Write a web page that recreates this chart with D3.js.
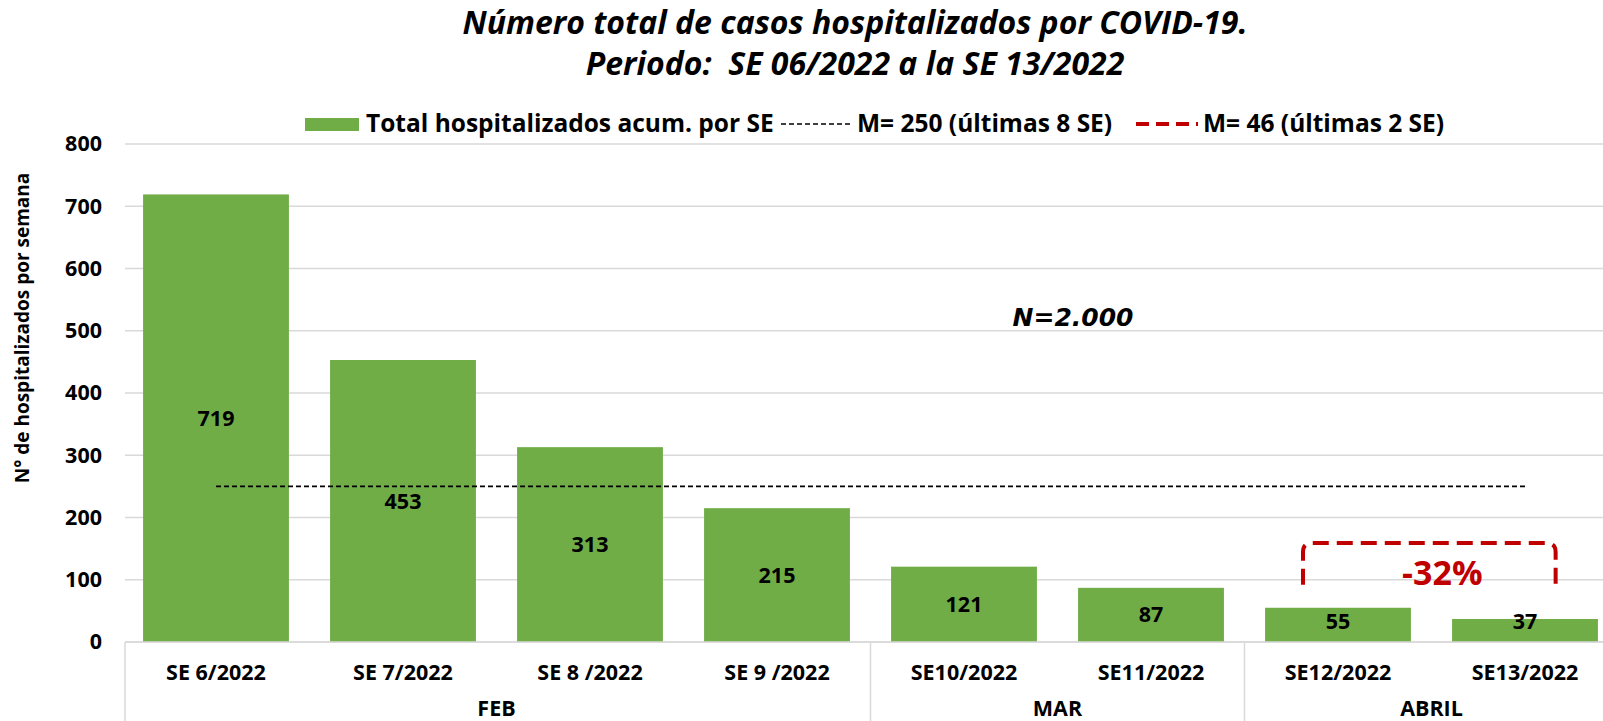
<!DOCTYPE html>
<html>
<head>
<meta charset="utf-8">
<script src="https://cdn.jsdelivr.net/npm/d3@7"></script>
<style>
  body { margin: 0; background: #fff; }
</style>
</head>
<body>
<div id="chart"></div>
<script>
// data
const categories = ['SE 6/2022', 'SE 7/2022', 'SE 8 /2022', 'SE 9 /2022', 'SE10/2022', 'SE11/2022', 'SE12/2022', 'SE13/2022']
const months = ['FEB', 'FEB', 'FEB', 'FEB', 'MAR', 'MAR', 'ABRIL', 'ABRIL']
const hospitalized = [719, 453, 313, 215, 121, 87, 55, 37]
const yTicks = [0, 100, 200, 300, 400, 500, 600, 700, 800]
const meanAll = 250
const titleLines = ['Número total de casos hospitalizados por COVID-19.', 'Periodo:  SE 06/2022 a la SE 13/2022']
const legendLabels = ['Total hospitalizados acum. por SE', 'M= 250 (últimas 8 SE)', 'M= 46 (últimas 2 SE)']
const totalLabel = 'N=2.000'
const changeLabel = '-32%'
const bracketRange = [92, 159]

const green = '#70AD47'
const red = '#C00000'
const grid = '#D9D9D9'
const font = '"Open Sans", sans-serif'

const width = 1603, height = 721
const svg = d3.select('#chart').append('svg')
  .attr('width', width)
  .attr('height', height)
  .style('font-family', font)

// scales
const xScale = d3.scaleBand()
  .domain(categories)
  .range([122.5, 122.5 + 8 * 187])
  .paddingInner(0.22)
  .paddingOuter(0.11)

const yScale = d3.scaleLinear()
  .domain([0, 800])
  .range([642, 144])

const bw = xScale.bandwidth()
const gap = xScale.step() * 0.22

// title
svg.append('g').selectAll('text')
  .data(titleLines)
  .join('text')
  .attr('x', 855)
  .attr('y', (d, i) => 34 + i * 41)
  .attr('text-anchor', 'middle')
  .attr('font-size', 32)
  .attr('font-weight', 'bold')
  .attr('font-style', 'italic')
  .style('white-space', 'pre')
  .text(d => d)

// gridlines
svg.append('g').selectAll('line')
  .data(yTicks)
  .join('line')
  .attr('x1', 125)
  .attr('x2', width)
  .attr('y1', d => yScale(d))
  .attr('y2', d => yScale(d))
  .attr('stroke', grid)
  .attr('stroke-width', 1.5)

// y axis
const yAxis = d3.axisLeft(yScale).tickValues(yTicks).tickSize(0).tickPadding(0)
const yG = svg.append('g')
  .attr('transform', 'translate(102,0)')
  .call(yAxis)
yG.select('.domain').remove()
yG.selectAll('text')
  .style('font-family', font)
  .attr('font-size', 21.5)
  .attr('font-weight', 'bold')
  .attr('fill', '#000')

svg.append('text')
  .attr('transform', 'translate(29,' + 328 + ') rotate(-90)')
  .attr('text-anchor', 'middle')
  .attr('font-size', 19)
  .attr('font-weight', 'bold')
  .text('N° de hospitalizados por semana')

// bars
svg.append('g').selectAll('rect')
  .data(hospitalized)
  .join('rect')
  .attr('x', (d, i) => xScale(categories[i]))
  .attr('y', d => yScale(d))
  .attr('width', bw)
  .attr('height', d => yScale(0) - yScale(d))
  .attr('fill', green)

// mean line
svg.append('line')
  .attr('x1', xScale(categories[0]) + bw / 2)
  .attr('x2', xScale(categories[7]) + bw / 2)
  .attr('y1', yScale(meanAll))
  .attr('y2', yScale(meanAll))
  .attr('stroke', '#000')
  .attr('stroke-width', 1.8)
  .attr('stroke-dasharray', '5,3')

// data labels
svg.append('g').selectAll('text')
  .data(hospitalized)
  .join('text')
  .attr('x', (d, i) => xScale(categories[i]) + bw / 2)
  .attr('y', d => Math.min((yScale(d) + yScale(0)) / 2, yScale(0) - 21))
  .attr('dy', '0.35em')
  .attr('text-anchor', 'middle')
  .attr('font-size', 21.5)
  .attr('font-weight', 'bold')
  .text(d => d)

// x axis - categories
const x0 = yScale(0)
svg.append('line')
  .attr('x1', 125).attr('x2', width)
  .attr('y1', x0).attr('y2', x0)
  .attr('stroke', grid).attr('stroke-width', 1.5)

svg.append('g').selectAll('text')
  .data(categories)
  .join('text')
  .attr('x', d => xScale(d) + bw / 2)
  .attr('y', 672)
  .attr('dy', '0.35em')
  .attr('text-anchor', 'middle')
  .attr('font-size', 21.5)
  .attr('font-weight', 'bold')
  .text(d => d)

// month groups
const groups = []
months.forEach((m, i) => {
  const last = groups[groups.length - 1]
  if (last && last.name === m) last.end = i
  else groups.push({ name: m, start: i, end: i })
})

svg.append('g').selectAll('line')
  .data(groups)
  .join('line')
  .attr('x1', d => Math.max(125, xScale(categories[d.start]) - gap / 2))
  .attr('x2', d => Math.max(125, xScale(categories[d.start]) - gap / 2))
  .attr('y1', x0)
  .attr('y2', height)
  .attr('stroke', grid)
  .attr('stroke-width', 1.5)

svg.append('g').selectAll('text')
  .data(groups)
  .join('text')
  .attr('x', d => (xScale(categories[d.start]) + xScale(categories[d.end]) + bw) / 2)
  .attr('y', 708)
  .attr('dy', '0.35em')
  .attr('text-anchor', 'middle')
  .attr('font-size', 21.5)
  .attr('font-weight', 'bold')
  .text(d => d.name)

// N label
svg.append('text')
  .attr('x', 1073)
  .attr('y', 326)
  .attr('text-anchor', 'middle')
  .style('font-family', '"DejaVu Sans", Verdana, sans-serif')
  .attr('font-size', 25)
  .attr('font-weight', 'bold')
  .attr('font-style', 'italic')
  .text(totalLabel)

// bracket for last 2 weeks
const bx1 = xScale(categories[6]) + bw * 0.26
const bx2 = xScale(categories[7]) + bw * 0.71
const by1 = yScale(bracketRange[0])
const by2 = yScale(bracketRange[1])
const r = 9
svg.append('path')
  .attr('d', 'M' + bx1 + ',' + by1 + ' L' + bx1 + ',' + (by2 + r) +
    ' Q' + bx1 + ',' + by2 + ' ' + (bx1 + r) + ',' + by2 +
    ' L' + (bx2 - r) + ',' + by2 +
    ' Q' + bx2 + ',' + by2 + ' ' + bx2 + ',' + (by2 + r) +
    ' L' + bx2 + ',' + by1)
  .attr('fill', 'none')
  .attr('stroke', red)
  .attr('stroke-width', 4)
  .attr('stroke-dasharray', '16,8')

svg.append('text')
  .attr('x', (bx1 + bx2) / 2 + 13)
  .attr('y', 585)
  .attr('text-anchor', 'middle')
  .attr('font-size', 34)
  .attr('font-weight', 'bold')
  .attr('fill', red)
  .text(changeLabel)

// legend
const legend = svg.append('g')
legend.append('rect')
  .attr('x', 305).attr('y', 118)
  .attr('width', 54).attr('height', 13)
  .attr('fill', green)
legend.append('text')
  .attr('x', 366).attr('y', 132)
  .attr('font-size', 24.5).attr('font-weight', 'bold')
  .text(legendLabels[0])
legend.append('line')
  .attr('x1', 781).attr('x2', 851)
  .attr('y1', 124).attr('y2', 124)
  .attr('stroke', '#000').attr('stroke-width', 1.5)
  .attr('stroke-dasharray', '5,3')
legend.append('text')
  .attr('x', 857).attr('y', 132)
  .attr('font-size', 24.5).attr('font-weight', 'bold')
  .text(legendLabels[1])
legend.append('line')
  .attr('x1', 1136).attr('x2', 1198)
  .attr('y1', 124).attr('y2', 124)
  .attr('stroke', red).attr('stroke-width', 4)
  .attr('stroke-dasharray', '13,7')
legend.append('text')
  .attr('x', 1203).attr('y', 132)
  .attr('font-size', 24.5).attr('font-weight', 'bold')
  .text(legendLabels[2])
</script>
</body>
</html>
